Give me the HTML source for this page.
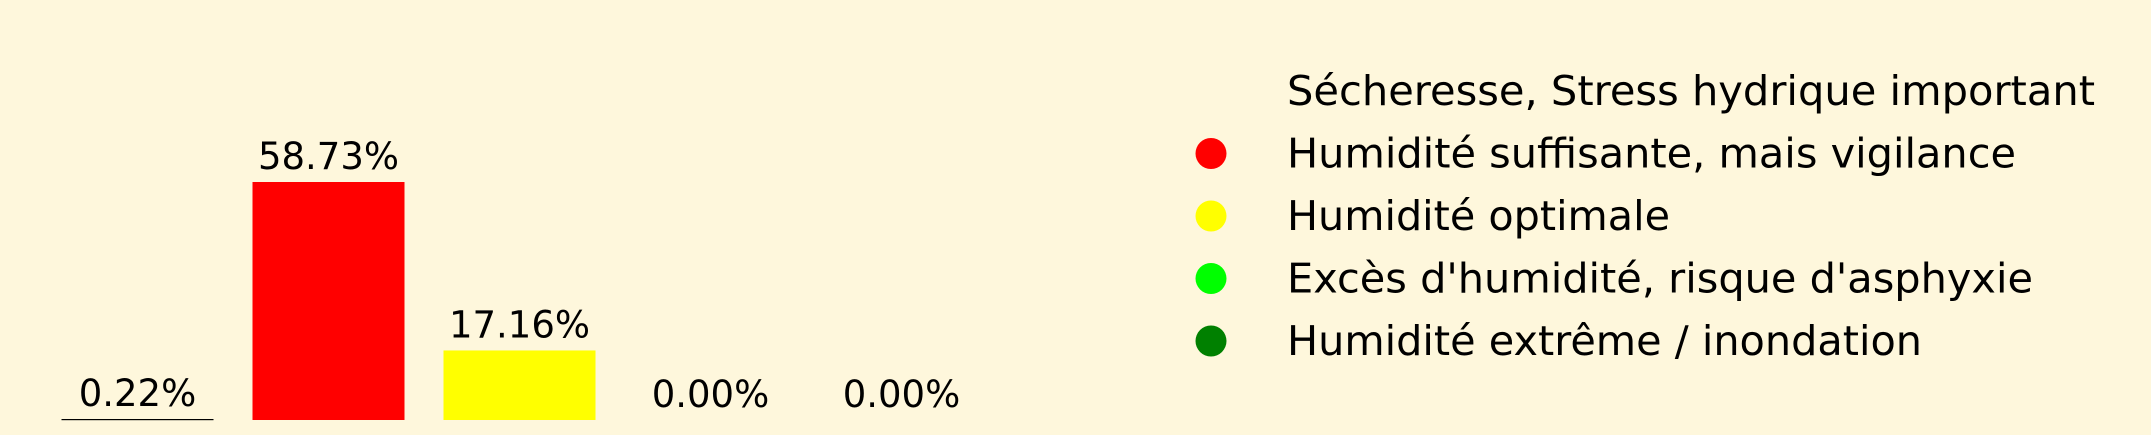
<!DOCTYPE html>
<html><head><meta charset="utf-8"><style>
html,body{margin:0;padding:0;background:#fef7dc;}
svg{display:block;font-family:"DejaVu Sans","Liberation Sans",sans-serif;}
</style></head><body>
<svg id="chart" width="2151" height="435" viewBox="0 0 2151 435" xmlns="http://www.w3.org/2000/svg">
<rect x="0" y="0" width="2151" height="435" fill="#fef7dc"/>
<g id="bars"></g>
<g id="legend"></g>
</svg>
<script>
const categories = ["Sécheresse, Stress hydrique important","Humidité suffisante, mais vigilance","Humidité optimale","Excès d'humidité, risque d'asphyxie","Humidité extrême / inondation"];
const values = [0.22, 58.73, 17.16, 0.00, 0.00];
const labels = ["0.22%","58.73%","17.16%","0.00%","0.00%"];
const colors = ["#000000","#ff0000","#ffff00","#00ff00","#008000"];
const legendWidths = [808, 729, 383, 746, 635];

const NS = "http://www.w3.org/2000/svg";
const baseY = 420, pxPerUnit = 238/58.73;
const x0 = 137.5, step = 191, barW = 152;
function xScale(i){ return x0 + i*step; }
function yScale(v){ return baseY - v*pxPerUnit; }

const gb = document.getElementById('bars');
values.forEach((v,i)=>{
  const top = yScale(v);
  const r = document.createElementNS(NS,'rect');
  
  
  r.setAttribute('x', xScale(i)-barW/2);
  r.setAttribute('width', barW);
  r.setAttribute('y', Math.min(top, baseY-1));
  r.setAttribute('height', Math.max(baseY-top, v>0?1.2:0));
  r.setAttribute('fill', colors[i]);
  gb.appendChild(r);
  const t = document.createElementNS(NS,'text');
  
  
  t.setAttribute('x', xScale(i));
  t.setAttribute('y', top - 13);
  t.setAttribute('text-anchor', 'middle');
  t.setAttribute('font-size', '37');
  t.setAttribute('fill', '#000');
  t.textContent = labels[i];
  gb.appendChild(t);
});

const gl = document.getElementById('legend');
categories.forEach((c,i)=>{
  const cy = 91 + i*62.5;
  if(i>0){
    const e = document.createElementNS(NS,'ellipse');
    
    
    e.setAttribute('cx', 1211);
    e.setAttribute('cy', cy);
    e.setAttribute('rx', 15.5);
    e.setAttribute('ry', 15.5);
    e.setAttribute('fill', colors[i]);
    gl.appendChild(e);
  }
  const t = document.createElementNS(NS,'text');
  
  
  t.setAttribute('x', 1287);
  t.setAttribute('y', cy + 14);
  t.setAttribute('font-size', '41');
  t.setAttribute('fill', '#000');
  t.setAttribute('textLength', legendWidths[i]);
  t.setAttribute('lengthAdjust', 'spacingAndGlyphs');
  t.textContent = c;
  gl.appendChild(t);
});
</script>
</body></html>
